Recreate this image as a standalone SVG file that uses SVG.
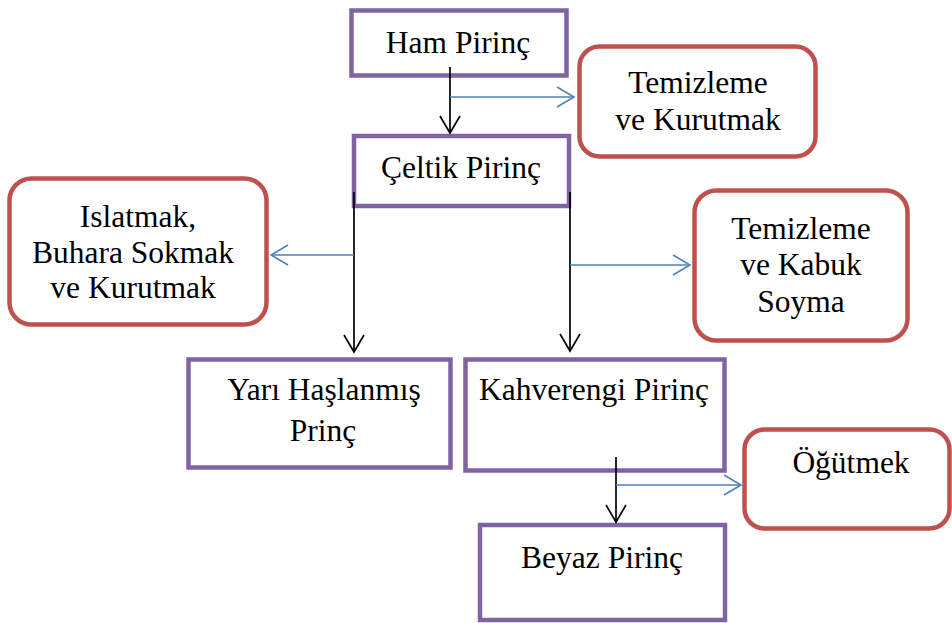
<svg xmlns="http://www.w3.org/2000/svg" width="952" height="623" viewBox="0 0 952 623" font-family="Liberation Serif, Times New Roman, serif">
<style>
.p{fill:#fff;stroke:#8064A2;stroke-width:4.5}
.r{fill:#fff;stroke:#C0504D;stroke-width:4.5}
.t{font-size:31.5px;fill:#000;text-anchor:middle}
.k{fill:none;stroke:#000;stroke-width:1.7}
.b{fill:none;stroke:#4F81BD;stroke-width:1.6}
</style>
<defs>
<marker id="ak" markerUnits="userSpaceOnUse" markerWidth="22" markerHeight="26" viewBox="-20 -13 22 26" refX="0" refY="0" orient="auto">
<path d="M-17,-10 L0,0 L-17,10" fill="none" stroke="#000" stroke-width="1.7"/>
</marker>
<marker id="ab" markerUnits="userSpaceOnUse" markerWidth="22" markerHeight="26" viewBox="-20 -13 22 26" refX="0" refY="0" orient="auto">
<path d="M-17,-10 L0,0 L-17,10" fill="none" stroke="#4F81BD" stroke-width="1.6"/>
</marker>
</defs>
<rect width="952" height="623" fill="#fff"/>
<g id="ham"><rect class="p" x="351.5" y="10.5" width="215" height="65"/><text class="t" x="458" y="53" font-family="Liberation Serif">Ham Pirinç</text></g>
<g id="temizleme1"><rect class="r" x="579.5" y="46.5" width="236" height="110" rx="20"/><text class="t" x="698" y="93">Temizleme</text><text class="t" x="698" y="130">ve Kurutmak</text></g>
<g id="celtik"><rect class="p" x="354" y="136" width="215" height="70"/><text class="t" x="461" y="178">Çeltik Pirinç</text></g>
<g id="islatmak"><rect class="r" x="9.5" y="178.5" width="257" height="146" rx="22"/><text class="t" x="138" y="227">Islatmak,</text><text class="t" x="133" y="263">Buhara Sokmak</text><text class="t" x="133" y="298">ve Kurutmak</text></g>
<g id="temizleme2"><rect class="r" x="694.5" y="190.5" width="213" height="150" rx="22"/><text class="t" x="801" y="239">Temizleme</text><text class="t" x="801" y="275">ve Kabuk</text><text class="t" x="801" y="312">Soyma</text></g>
<g id="yari"><rect class="p" x="188.5" y="359.5" width="262" height="108"/><text class="t" x="324" y="400">Yarı Haşlanmış</text><text class="t" x="323" y="441">Prinç</text></g>
<g id="kahverengi"><rect class="p" x="465.5" y="359.5" width="259" height="111"/><text class="t" x="594" y="400">Kahverengi Pirinç</text></g>
<g id="ogutmek"><rect class="r" x="744.5" y="429.5" width="205" height="99" rx="20"/><text class="t" x="851" y="473">Öğütmek</text></g>
<g id="beyaz"><rect class="p" x="480" y="525" width="245" height="95"/><text class="t" x="602" y="568">Beyaz Pirinç</text></g>
<g id="connectors">
<line class="k" x1="450" y1="67" x2="450" y2="133" marker-end="url(#ak)"/>
<line class="b" x1="450" y1="97" x2="574" y2="97" marker-end="url(#ab)"/>
<line class="k" x1="354" y1="192" x2="354" y2="352" marker-end="url(#ak)"/>
<line class="b" x1="354" y1="255" x2="271" y2="255" marker-end="url(#ab)"/>
<line class="k" x1="570" y1="192" x2="570" y2="351" marker-end="url(#ak)"/>
<line class="b" x1="570" y1="265" x2="690" y2="265" marker-end="url(#ab)"/>
<line class="k" x1="616" y1="457" x2="616" y2="522" marker-end="url(#ak)"/>
<line class="b" x1="616" y1="485" x2="741" y2="485" marker-end="url(#ab)"/>
</g>
</svg>
